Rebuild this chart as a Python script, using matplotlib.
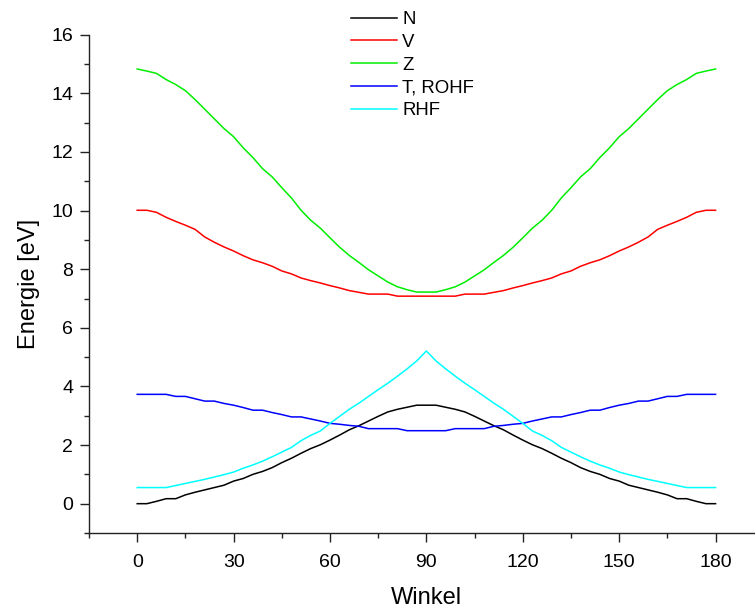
import numpy as np
import matplotlib
matplotlib.use('Agg')
import matplotlib.pyplot as plt
from matplotlib.ticker import MultipleLocator

plt.rcParams['font.family'] = ['Liberation Sans', 'DejaVu Sans']

# Winkel in Grad, Schrittweite 3
winkel = np.arange(0, 181, 3)

n_vals = [0.00, 0.00, 0.08, 0.17, 0.17, 0.30, 0.39, 0.47, 0.55, 0.63,
          0.77, 0.86, 1.00, 1.10, 1.23, 1.40, 1.55, 1.72, 1.88, 2.01,
          2.17, 2.34, 2.52, 2.66, 2.82, 2.98, 3.13, 3.22, 3.29, 3.36,
          3.36,
          3.36, 3.29, 3.22, 3.13, 2.98, 2.82, 2.66, 2.52, 2.34, 2.17,
          2.01, 1.88, 1.72, 1.55, 1.40, 1.23, 1.10, 1.00, 0.86, 0.77,
          0.63, 0.55, 0.47, 0.39, 0.30, 0.17, 0.17, 0.08, 0.00, 0.00]

v_vals = [10.01, 10.01, 9.94, 9.77, 9.63, 9.50, 9.36, 9.10, 8.92, 8.76,
          8.62, 8.46, 8.32, 8.22, 8.10, 7.94, 7.84, 7.70, 7.61, 7.53,
          7.44, 7.36, 7.27, 7.21, 7.15, 7.15, 7.15, 7.08, 7.08, 7.08,
          7.08,
          7.08, 7.08, 7.08, 7.15, 7.15, 7.15, 7.21, 7.27, 7.36, 7.44,
          7.53, 7.61, 7.70, 7.84, 7.94, 8.10, 8.22, 8.32, 8.46, 8.62,
          8.76, 8.92, 9.10, 9.36, 9.50, 9.63, 9.77, 9.94, 10.01, 10.01]

z_vals = [14.83, 14.76, 14.68, 14.47, 14.30, 14.09, 13.79, 13.46, 13.13, 12.80,
          12.52, 12.14, 11.81, 11.43, 11.15, 10.78, 10.43, 10.01, 9.67, 9.40,
          9.07, 8.75, 8.47, 8.23, 7.98, 7.77, 7.56, 7.40, 7.30, 7.22,
          7.22,
          7.22, 7.30, 7.40, 7.56, 7.77, 7.98, 8.23, 8.47, 8.75, 9.07,
          9.40, 9.67, 10.01, 10.43, 10.78, 11.15, 11.43, 11.81, 12.14, 12.52,
          12.80, 13.13, 13.46, 13.79, 14.09, 14.30, 14.47, 14.68, 14.76, 14.83]

t_vals = [3.73, 3.73, 3.73, 3.73, 3.66, 3.66, 3.58, 3.50, 3.50, 3.42,
          3.36, 3.28, 3.19, 3.19, 3.11, 3.04, 2.96, 2.96, 2.89, 2.82,
          2.74, 2.71, 2.67, 2.64, 2.56, 2.56, 2.56, 2.56, 2.49, 2.49,
          2.49,
          2.49, 2.49, 2.56, 2.56, 2.56, 2.56, 2.64, 2.67, 2.71, 2.74,
          2.82, 2.89, 2.96, 2.96, 3.04, 3.11, 3.19, 3.19, 3.28, 3.36,
          3.42, 3.50, 3.50, 3.58, 3.66, 3.66, 3.73, 3.73, 3.73, 3.73]

rhf_vals = [0.55, 0.55, 0.55, 0.55, 0.62, 0.69, 0.76, 0.83, 0.91, 0.99,
            1.08, 1.21, 1.32, 1.45, 1.60, 1.76, 1.92, 2.15, 2.33, 2.48,
            2.74, 2.98, 3.22, 3.43, 3.66, 3.89, 4.11, 4.35, 4.60, 4.87,
            5.21,
            4.87, 4.60, 4.35, 4.11, 3.89, 3.66, 3.43, 3.22, 2.98, 2.74,
            2.48, 2.33, 2.15, 1.92, 1.76, 1.60, 1.45, 1.32, 1.21, 1.08,
            0.99, 0.91, 0.83, 0.76, 0.69, 0.62, 0.55, 0.55, 0.55, 0.55]

labels = ['N', 'V', 'Z', 'T, ROHF', 'RHF']
colors = ['black', '#ff0000', '#00ee00', '#0000ff', '#00ffff']

fig = plt.figure(figsize=(7.55, 6.12), dpi=100)
ax = fig.add_axes([0.1179, 0.1291, 0.8937, 0.8142])

for vals, lab, col in zip([n_vals, v_vals, z_vals, t_vals, rhf_vals], labels, colors):
    ax.plot(winkel, vals, color=col, linewidth=1.1, label=lab)

ax.set_xlim(-15, 195)
ax.set_ylim(-1, 16)
ax.xaxis.set_major_locator(MultipleLocator(30))
ax.xaxis.set_minor_locator(MultipleLocator(15))
ax.yaxis.set_major_locator(MultipleLocator(2))
ax.yaxis.set_minor_locator(MultipleLocator(1))

for side in ['top', 'right']:
    ax.spines[side].set_visible(False)
for side in ['left', 'bottom']:
    ax.spines[side].set_linewidth(1.0)
    ax.spines[side].set_color('#222222')

ax.tick_params(which='major', direction='out', length=6.5, width=1.0,
               labelsize=14, pad=5, color='#222222')
ax.tick_params(which='minor', direction='out', length=3.5, width=1.0,
               color='#222222')
ax.tick_params(axis='x', which='major', pad=8.5)

ax.set_xlabel('Winkel', fontsize=17, labelpad=12)
ax.set_ylabel('Energie [eV]', fontsize=17, labelpad=8)

fig.legend(loc='upper left', bbox_to_anchor=(0.46, 0.988), frameon=False,
           fontsize=13.4, handlelength=2.45, handletextpad=0.3,
           labelspacing=0.31, borderaxespad=0.0, borderpad=0.2)

fig.savefig('out.png', dpi=100)
